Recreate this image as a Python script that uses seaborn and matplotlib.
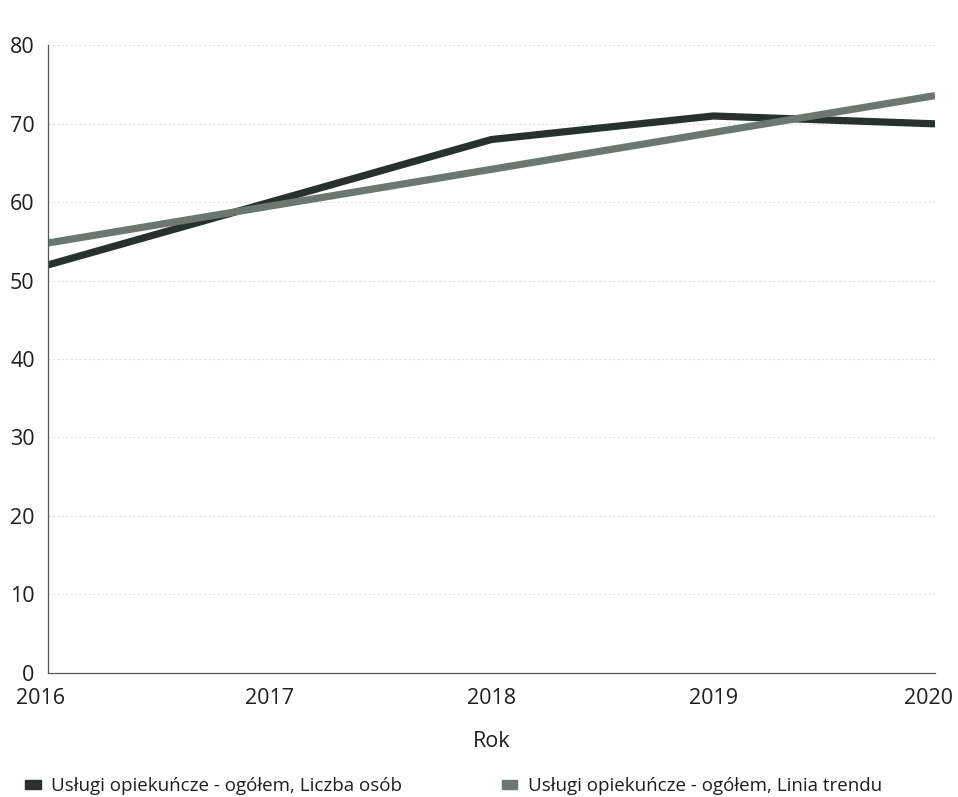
import pandas as pd
import matplotlib.pyplot as plt
import matplotlib.transforms as mtransforms
from matplotlib.patches import Patch
import seaborn as sns

years = [2016, 2017, 2018, 2019, 2020]
persons = [52, 60, 68, 71, 70]
trend = [54.8, 59.5, 64.2, 68.9, 73.6]
series_names = [
    "Usługi opiekuńcze - ogółem, Liczba osób",
    "Usługi opiekuńcze - ogółem, Linia trendu",
]
colors = ["#28312d", "#6d7772"]

df = pd.concat([
    pd.DataFrame({"Rok": years, "value": persons, "series": series_names[0]}),
    pd.DataFrame({"Rok": years, "value": trend, "series": series_names[1]}),
])

sns.set_style("white")
plt.rcParams["font.family"] = ["Open Sans", "DejaVu Sans"]

fig = plt.figure(figsize=(9.58, 7.97), dpi=100)
ax = fig.add_axes([0.050, 0.156, 0.926, 0.787])

sns.lineplot(
    data=df, x="Rok", y="value", hue="series",
    palette=dict(zip(series_names, colors)),
    linewidth=5.2, legend=False, ax=ax,
)
for line in ax.lines:
    line.set_solid_capstyle("butt")
    line.set_solid_joinstyle("round")

ax.set_xlim(years[0], years[-1])
ax.set_ylim(0, 80)
ax.set_yticks(range(0, 81, 10))
ax.set_xticks(years)
ax.set_xticklabels([str(y) for y in years])
ax.yaxis.grid(True, color="#e2e2e2", linewidth=0.8, linestyle=(0, (2, 2)))
ax.set_axisbelow(True)
for side in ["top", "right"]:
    ax.spines[side].set_visible(False)
for side in ["left", "bottom"]:
    ax.spines[side].set_color("#555555")
    ax.spines[side].set_linewidth(0.9)

ax.tick_params(axis="both", length=0, labelsize=15.5, colors="#1e1e1e")
ax.tick_params(axis="y", pad=9.5)
ax.tick_params(axis="x", pad=11)
ax.set_ylabel("")
ax.set_xlabel("Rok", fontsize=15.5, color="#1e1e1e", labelpad=16)

labels = ax.get_xticklabels()
labels[0].set_transform(labels[0].get_transform() + mtransforms.ScaledTranslation(-7.5 / 100, 0, fig.dpi_scale_trans))
labels[-1].set_transform(labels[-1].get_transform() + mtransforms.ScaledTranslation(-7 / 100, 0, fig.dpi_scale_trans))

handles = [Patch(facecolor=c, edgecolor=c) for c in colors]
fig.legend(
    handles, series_names, loc="center left", bbox_to_anchor=(0.026, 0.014),
    ncol=2, frameon=False, fontsize=13.5, handlelength=0.85, handleheight=0.38,
    handletextpad=0.55, columnspacing=5.3, labelcolor="#1e1e1e",
    borderpad=0, borderaxespad=0,
)

fig.savefig("out.png", dpi=100)
